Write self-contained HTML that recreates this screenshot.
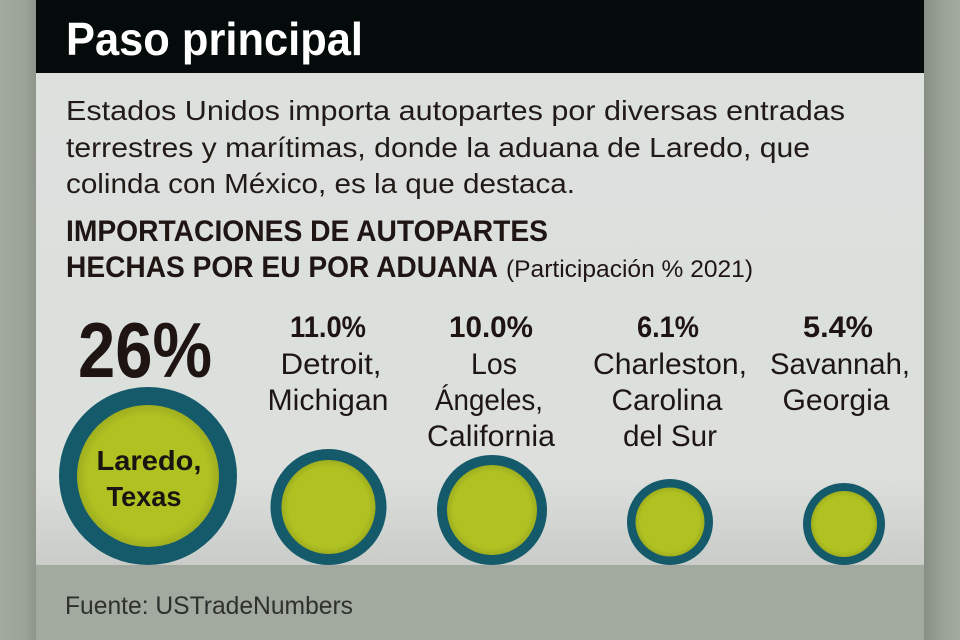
<!DOCTYPE html>
<html>
<head>
<meta charset="utf-8">
<style>
html,body{margin:0;padding:0;width:960px;height:640px;overflow:hidden;background:#a0a89e;}
svg{display:block;}
text{font-family:"Liberation Sans",sans-serif;}
</style>
</head>
<body>
<svg width="960" height="640" viewBox="0 0 960 640" xmlns="http://www.w3.org/2000/svg">
  <defs>
    <linearGradient id="panel" x1="0" y1="0" x2="0" y2="1">
      <stop offset="0" stop-color="#dde1de"/>
      <stop offset="0.82" stop-color="#dcdfdc"/>
      <stop offset="1" stop-color="#c9ccc8"/>
    </linearGradient>
    <linearGradient id="rshadow" x1="0" y1="0" x2="1" y2="0">
      <stop offset="0" stop-color="#878f85"/>
      <stop offset="0.5" stop-color="#9aa298"/>
      <stop offset="1" stop-color="#a3aba1"/>
    </linearGradient>
    <linearGradient id="lshadow" x1="0" y1="0" x2="1" y2="0">
      <stop offset="0" stop-color="#a2aaa0"/>
      <stop offset="0.7" stop-color="#9ba399"/>
      <stop offset="1" stop-color="#8e968c"/>
    </linearGradient>
    <radialGradient id="fill" cx="0.5" cy="0.5" r="0.5">
      <stop offset="0.85" stop-color="#b0c122"/>
      <stop offset="1" stop-color="#9fae1e"/>
    </radialGradient>
  </defs>

  <!-- outer background -->
  <rect x="0" y="0" width="960" height="640" fill="#a0a89e"/>
  <rect x="0" y="0" width="36" height="640" fill="url(#lshadow)"/>
  <rect x="924" y="0" width="36" height="640" fill="url(#rshadow)"/>

  <!-- panel -->
  <rect x="36" y="73" width="888" height="492" fill="url(#panel)"/>
  <!-- header -->
  <rect x="36" y="0" width="888" height="73" fill="#050a0a"/>
  <!-- footer -->
  <rect x="36" y="565" width="888" height="75" fill="#a2a99f"/>

  <!-- title -->
  <text x="66" y="55" font-size="46" font-weight="bold" fill="#ffffff" textLength="297" lengthAdjust="spacingAndGlyphs">Paso principal</text>

  <!-- body text -->
  <g fill="#221a17" font-size="28">
    <text x="66" y="120" textLength="779" lengthAdjust="spacingAndGlyphs">Estados Unidos importa autopartes por diversas entradas</text>
    <text x="66" y="157" textLength="744" lengthAdjust="spacingAndGlyphs">terrestres y marítimas, donde la aduana de Laredo, que</text>
    <text x="66" y="193" textLength="509" lengthAdjust="spacingAndGlyphs">colinda con México, es la que destaca.</text>
  </g>

  <!-- heading -->
  <g fill="#1f1513">
    <text x="66" y="241" font-size="30" font-weight="bold" textLength="482" lengthAdjust="spacingAndGlyphs">IMPORTACIONES DE AUTOPARTES</text>
    <text x="66" y="277" font-size="30" font-weight="bold" textLength="432" lengthAdjust="spacingAndGlyphs">HECHAS POR EU POR ADUANA</text>
    <text x="506" y="277" font-size="24" textLength="247" lengthAdjust="spacingAndGlyphs">(Participación % 2021)</text>
  </g>

  <!-- percentages -->
  <g fill="#1e1412" font-weight="bold">
    <text x="78" y="377" font-size="78" textLength="134" lengthAdjust="spacingAndGlyphs">26%</text>
    <text x="328" y="337" font-size="30" text-anchor="middle" textLength="76" lengthAdjust="spacingAndGlyphs">11.0%</text>
    <text x="491" y="337" font-size="30" text-anchor="middle" textLength="84" lengthAdjust="spacingAndGlyphs">10.0%</text>
    <text x="668" y="337" font-size="30" text-anchor="middle" textLength="62" lengthAdjust="spacingAndGlyphs">6.1%</text>
    <text x="838" y="337" font-size="30" text-anchor="middle" textLength="70" lengthAdjust="spacingAndGlyphs">5.4%</text>
  </g>

  <!-- city labels -->
  <g fill="#1e1614" font-size="30" text-anchor="middle">
    <text x="331" y="374" textLength="101" lengthAdjust="spacingAndGlyphs">Detroit,</text>
    <text x="328" y="410" textLength="121" lengthAdjust="spacingAndGlyphs">Michigan</text>

    <text x="494" y="374" textLength="46" lengthAdjust="spacingAndGlyphs">Los</text>
    <text x="489" y="410" textLength="108" lengthAdjust="spacingAndGlyphs">Ángeles,</text>
    <text x="491" y="446" textLength="128" lengthAdjust="spacingAndGlyphs">California</text>

    <text x="670" y="374" textLength="154" lengthAdjust="spacingAndGlyphs">Charleston,</text>
    <text x="667" y="410" textLength="111" lengthAdjust="spacingAndGlyphs">Carolina</text>
    <text x="670" y="446" textLength="94" lengthAdjust="spacingAndGlyphs">del Sur</text>

    <text x="840" y="374" textLength="140" lengthAdjust="spacingAndGlyphs">Savannah,</text>
    <text x="836" y="410" textLength="107" lengthAdjust="spacingAndGlyphs">Georgia</text>
  </g>

  <!-- circles -->
  <g>
    <circle cx="148" cy="476" r="89" fill="#145a6b"/>
    <circle cx="148" cy="476" r="71" fill="url(#fill)"/>

    <circle cx="328.5" cy="507" r="58" fill="#145a6b"/>
    <circle cx="328.5" cy="507" r="47" fill="url(#fill)"/>

    <circle cx="492" cy="510" r="55" fill="#145a6b"/>
    <circle cx="492" cy="510" r="45" fill="url(#fill)"/>

    <circle cx="670" cy="522" r="43" fill="#145a6b"/>
    <circle cx="670" cy="522" r="34.5" fill="url(#fill)"/>

    <circle cx="844" cy="524" r="41" fill="#145a6b"/>
    <circle cx="844" cy="524" r="33" fill="url(#fill)"/>
  </g>

  <!-- Laredo label -->
  <g fill="#1b1512" font-size="28" font-weight="bold" text-anchor="middle">
    <text x="149" y="470" textLength="105" lengthAdjust="spacingAndGlyphs">Laredo,</text>
    <text x="144" y="506" textLength="75" lengthAdjust="spacingAndGlyphs">Texas</text>
  </g>

  <!-- source -->
  <text x="65" y="614" font-size="25" fill="#2e302d" textLength="288" lengthAdjust="spacingAndGlyphs">Fuente: USTradeNumbers</text>
</svg>
</body>
</html>
